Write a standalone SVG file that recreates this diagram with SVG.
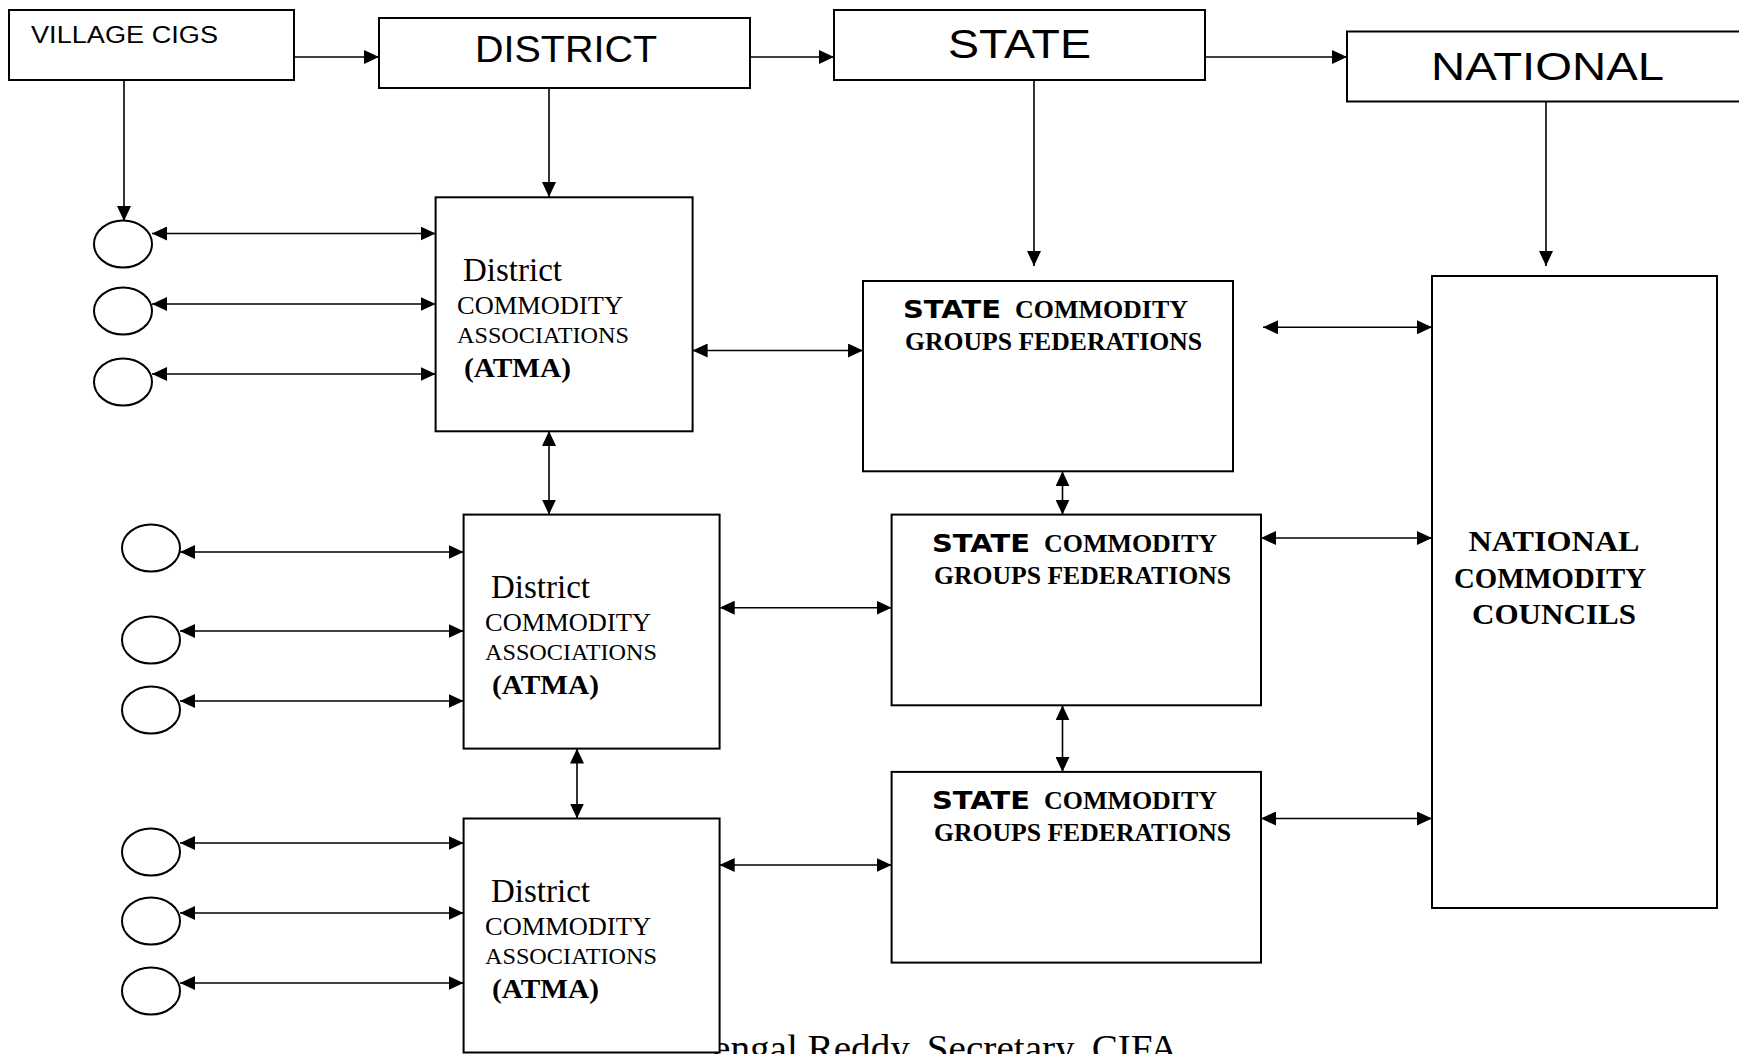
<svg xmlns="http://www.w3.org/2000/svg" width="1739" height="1054" viewBox="0 0 1739 1054">
<defs>
<marker id="ah" viewBox="0 0 15 14" refX="15" refY="7" markerWidth="15" markerHeight="14" markerUnits="userSpaceOnUse" orient="auto-start-reverse">
<path d="M0,0 L15,7 L0,14 z" fill="#000"/>
</marker>
<style>
.box{fill:#fff;stroke:#000;stroke-width:2}
.circ{fill:#fff;stroke:#000;stroke-width:2}
.ln{stroke:#000;stroke-width:1.6;fill:none}
.one{marker-end:url(#ah)}
.two{marker-start:url(#ah);marker-end:url(#ah)}
.sans{font-family:"Liberation Sans",Arial,sans-serif;fill:#000}
.ser{font-family:"Liberation Serif","Times New Roman",serif;fill:#000}
.bs{font-family:"Liberation Serif","Times New Roman",serif;font-weight:bold;fill:#000}
.comic{font-family:"Comic Sans MS","DejaVu Sans",sans-serif;font-weight:bold;fill:#000}
</style>
</defs>
<rect width="1739" height="1054" fill="#fff"/>

<text class="ser" x="713" y="1061" font-size="38" textLength="465" lengthAdjust="spacingAndGlyphs">engal Reddy, Secretary, CIFA</text>

<g id="connectors">
<line class="ln one" x1="294" y1="57" x2="379" y2="57"/>
<line class="ln one" x1="750" y1="57" x2="834" y2="57"/>
<line class="ln one" x1="1205" y1="57" x2="1347" y2="57"/>
<line class="ln one" x1="124" y1="80" x2="124" y2="221"/>
<line class="ln one" x1="549" y1="88" x2="549" y2="197"/>
<line class="ln one" x1="1034" y1="80" x2="1034" y2="266"/>
<line class="ln one" x1="1546" y1="102" x2="1546" y2="266"/>

<line class="ln two" x1="152" y1="233.5" x2="435.6" y2="233.5"/>
<line class="ln two" x1="152" y1="304" x2="435.6" y2="304"/>
<line class="ln two" x1="152" y1="374" x2="435.6" y2="374"/>
<line class="ln two" x1="180" y1="552" x2="463.6" y2="552"/>
<line class="ln two" x1="180" y1="631" x2="463.6" y2="631"/>
<line class="ln two" x1="180" y1="701" x2="463.6" y2="701"/>
<line class="ln two" x1="180" y1="843" x2="463.6" y2="843"/>
<line class="ln two" x1="180" y1="913" x2="463.6" y2="913"/>
<line class="ln two" x1="180" y1="983" x2="463.6" y2="983"/>

<line class="ln two" x1="549" y1="431" x2="549" y2="514.6"/>
<line class="ln two" x1="577" y1="748.6" x2="577" y2="818.5"/>

<line class="ln two" x1="692.6" y1="350.5" x2="863" y2="350.5"/>
<line class="ln two" x1="719.7" y1="607.7" x2="891.6" y2="607.7"/>
<line class="ln two" x1="719.7" y1="865" x2="891.6" y2="865"/>

<line class="ln two" x1="1062.5" y1="471.3" x2="1062.5" y2="514.6"/>
<line class="ln two" x1="1062.5" y1="705.3" x2="1062.5" y2="771.9"/>

<line class="ln two" x1="1263" y1="327.3" x2="1432" y2="327.3"/>
<line class="ln two" x1="1261" y1="538" x2="1432" y2="538"/>
<line class="ln two" x1="1261" y1="818.5" x2="1432" y2="818.5"/>
</g>

<g id="village-cigs">
<rect class="box" x="9" y="10" width="285" height="70"/>
<text class="sans" x="31" y="43" font-size="23" textLength="187" lengthAdjust="spacingAndGlyphs">VILLAGE CIGS</text>
</g>
<g id="district">
<rect class="box" x="379" y="18" width="371" height="70"/>
<text class="sans" x="475" y="61.5" font-size="36" textLength="182" lengthAdjust="spacingAndGlyphs">DISTRICT</text>
</g>
<g id="state">
<rect class="box" x="834" y="10" width="371" height="70"/>
<text class="sans" x="948" y="58" font-size="40" textLength="143" lengthAdjust="spacingAndGlyphs">STATE</text>
</g>
<g id="national">
<rect class="box" x="1347" y="31.5" width="420" height="70"/>
<text class="sans" x="1431" y="80" font-size="39" textLength="233" lengthAdjust="spacingAndGlyphs">NATIONAL</text>
</g>

<g id="circles-1">
<ellipse class="circ" cx="123" cy="244" rx="29" ry="23.5"/>
<ellipse class="circ" cx="123" cy="311" rx="29" ry="23.5"/>
<ellipse class="circ" cx="123" cy="382" rx="29" ry="23.5"/>
</g>
<g id="circles-2">
<ellipse class="circ" cx="151" cy="548" rx="29" ry="23.5"/>
<ellipse class="circ" cx="151" cy="640" rx="29" ry="23.5"/>
<ellipse class="circ" cx="151" cy="710" rx="29" ry="23.5"/>
</g>
<g id="circles-3">
<ellipse class="circ" cx="151" cy="852" rx="29" ry="23.5"/>
<ellipse class="circ" cx="151" cy="921" rx="29" ry="23.5"/>
<ellipse class="circ" cx="151" cy="991" rx="29" ry="23.5"/>
</g>

<g id="district-assoc-1">
<rect class="box" x="435.6" y="197.3" width="257" height="234"/>
<text class="ser" x="463" y="281" font-size="33">District</text>
<text class="ser" x="457" y="314" font-size="26" textLength="166" lengthAdjust="spacingAndGlyphs">COMMODITY</text>
<text class="ser" x="457" y="343" font-size="23" textLength="172" lengthAdjust="spacingAndGlyphs">ASSOCIATIONS</text>
<text class="bs" x="464" y="377" font-size="28" textLength="107" lengthAdjust="spacingAndGlyphs">(ATMA)</text>
</g>
<g id="district-assoc-2">
<rect class="box" x="463.6" y="514.6" width="256" height="234"/>
<text class="ser" x="491" y="598" font-size="33">District</text>
<text class="ser" x="485" y="631" font-size="26" textLength="166" lengthAdjust="spacingAndGlyphs">COMMODITY</text>
<text class="ser" x="485" y="660" font-size="23" textLength="172" lengthAdjust="spacingAndGlyphs">ASSOCIATIONS</text>
<text class="bs" x="492" y="694" font-size="28" textLength="107" lengthAdjust="spacingAndGlyphs">(ATMA)</text>
</g>
<g id="district-assoc-3">
<rect class="box" x="463.6" y="818.5" width="256" height="234"/>
<text class="ser" x="491" y="902" font-size="33">District</text>
<text class="ser" x="485" y="935" font-size="26" textLength="166" lengthAdjust="spacingAndGlyphs">COMMODITY</text>
<text class="ser" x="485" y="964" font-size="23" textLength="172" lengthAdjust="spacingAndGlyphs">ASSOCIATIONS</text>
<text class="bs" x="492" y="998" font-size="28" textLength="107" lengthAdjust="spacingAndGlyphs">(ATMA)</text>
</g>

<g id="state-fed-1">
<rect class="box" x="863" y="281" width="370" height="190.3"/>
<text class="comic" x="903" y="317.5" font-size="24" textLength="98" lengthAdjust="spacingAndGlyphs">STATE</text>
<text class="bs" x="1015" y="317.5" font-size="26" textLength="173" lengthAdjust="spacingAndGlyphs">COMMODITY</text>
<text class="bs" x="905" y="349.5" font-size="26" textLength="297" lengthAdjust="spacingAndGlyphs">GROUPS FEDERATIONS</text>
</g>
<g id="state-fed-2">
<rect class="box" x="891.6" y="514.6" width="369.4" height="190.7"/>
<text class="comic" x="932" y="551.5" font-size="24" textLength="98" lengthAdjust="spacingAndGlyphs">STATE</text>
<text class="bs" x="1044" y="551.5" font-size="26" textLength="173" lengthAdjust="spacingAndGlyphs">COMMODITY</text>
<text class="bs" x="934" y="583.5" font-size="26" textLength="297" lengthAdjust="spacingAndGlyphs">GROUPS FEDERATIONS</text>
</g>
<g id="state-fed-3">
<rect class="box" x="891.6" y="771.9" width="369.4" height="190.7"/>
<text class="comic" x="932" y="808.5" font-size="24" textLength="98" lengthAdjust="spacingAndGlyphs">STATE</text>
<text class="bs" x="1044" y="808.5" font-size="26" textLength="173" lengthAdjust="spacingAndGlyphs">COMMODITY</text>
<text class="bs" x="934" y="840.5" font-size="26" textLength="297" lengthAdjust="spacingAndGlyphs">GROUPS FEDERATIONS</text>
</g>

<g id="national-councils">
<rect class="box" x="1432" y="276" width="285" height="632"/>
<text class="bs" x="1554" y="551" font-size="30" text-anchor="middle" textLength="171" lengthAdjust="spacingAndGlyphs">NATIONAL</text>
<text class="bs" x="1550" y="587.5" font-size="30" text-anchor="middle" textLength="192" lengthAdjust="spacingAndGlyphs">COMMODITY</text>
<text class="bs" x="1554" y="624" font-size="30" text-anchor="middle" textLength="164" lengthAdjust="spacingAndGlyphs">COUNCILS</text>
</g>
</svg>
